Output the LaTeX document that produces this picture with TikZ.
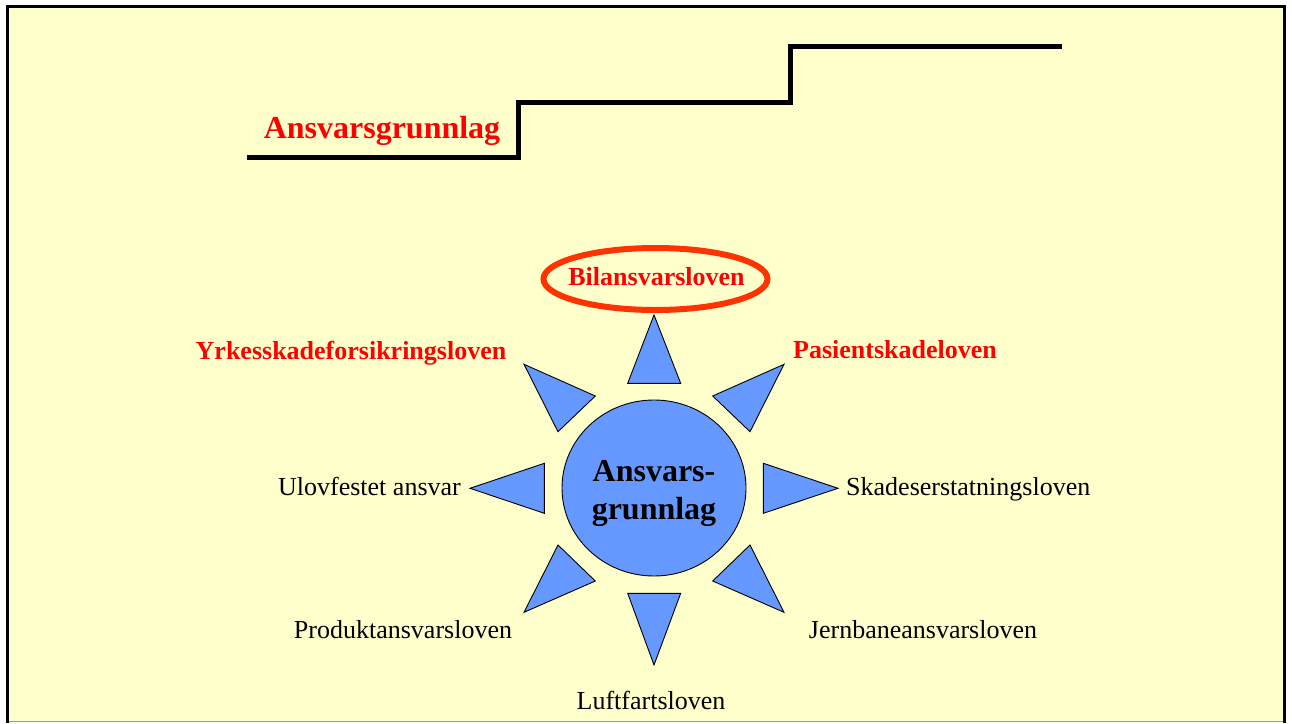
\documentclass[tikz,border=0pt]{standalone}
\usepackage{fontspec}
\setmainfont{Liberation Serif}
\usetikzlibrary{shapes.geometric}
\definecolor{bgyellow}{HTML}{FFFFCC}
\definecolor{sunblue}{HTML}{6699FF}
\definecolor{labred}{HTML}{FF0000}
\definecolor{ringred}{HTML}{FF3300}
\definecolor{edgegray}{HTML}{A0A080}
\tikzset{
  ray/.style={fill=sunblue, draw=black, line width=0.9pt, line join=miter},
  redlab/.style={text=labred, font=\fontsize{26}{30}\selectfont\bfseries, inner sep=0pt},
  blacklab/.style={text=black, font=\fontsize{26}{30}\selectfont, inner sep=0pt},
}
\begin{document}
\begin{tikzpicture}[x=1pt,y=-1pt]
\useasboundingbox (0,0) rectangle (1292,723);
% frame
\fill[white] (0,0) rectangle (1292,723);
\fill[bgyellow] (6,5) rectangle (1286,722);
\draw[edgegray, line width=1.2pt] (9,721.5) -- (1283,721.5);
\draw[black, line width=3pt] (7.5,723) -- (7.5,6) -- (1284.5,6) -- (1284.5,723);
% staircase
\draw[black, line width=5pt, line join=miter] (247,157) -- (518,157) -- (518,102) -- (790,102) -- (790,46) -- (1062,46);
\node[redlab, font=\fontsize{32}{36}\selectfont\bfseries, anchor=base] (title) at (382,138) {Ansvarsgrunnlag};
% rays
\path[ray] (654,315) -- (680.7,383.3) -- (627.7,383.3) -- cycle;
\path[ray] (654,665) -- (680.7,593.3) -- (627.7,593.3) -- cycle;
\path[ray] (470,488.3) -- (544.3,463.3) -- (544.3,513.3) -- cycle;
\path[ray] (838,488.3) -- (763.3,463.3) -- (763.3,513.3) -- cycle;
\path[ray] (524,364.3) -- (595.3,396) -- (558,431.7) -- cycle;
\path[ray] (784,364.3) -- (712.7,396) -- (750,431.7) -- cycle;
\path[ray] (524,612.3) -- (595.3,581) -- (558,545) -- cycle;
\path[ray] (784,612.3) -- (712.7,581) -- (750,545) -- cycle;
% centre
\node[draw=black, fill=sunblue, line width=0.9pt, ellipse, minimum width=184pt, minimum height=176pt, inner sep=0pt] (hub) at (654,488) {};
\node[anchor=base, inner sep=0pt, font=\fontsize{32}{36}\selectfont\bfseries] (hubA) at (654,481) {Ansvars-};
\node[anchor=base, inner sep=0pt, font=\fontsize{32}{36}\selectfont\bfseries] (hubB) at (654,519) {grunnlag};
% ring
\draw[ringred, line width=6pt] (655.5,279) ellipse [x radius=112, y radius=31];
\node[redlab, anchor=base] (bil) at (656.5,285) {Bilansvarsloven};
% labels
\node[redlab, anchor=base] (yrk) at (351,359) {Yrkesskadeforsikringsloven};
\node[redlab, anchor=base] (pas) at (895,358) {Pasientskadeloven};
\node[blacklab, anchor=base east] (ulo) at (461,495) {Ulovfestet ansvar};
\node[blacklab, anchor=base west] (ska) at (846,495) {Skadeserstatningsloven};
\node[blacklab, anchor=base] (pro) at (403,638) {Produktansvarsloven};
\node[blacklab, anchor=base] (jer) at (923,638) {Jernbaneansvarsloven};
\node[blacklab, anchor=base] (luf) at (651,709) {Luftfartsloven};
\end{tikzpicture}
\end{document}
